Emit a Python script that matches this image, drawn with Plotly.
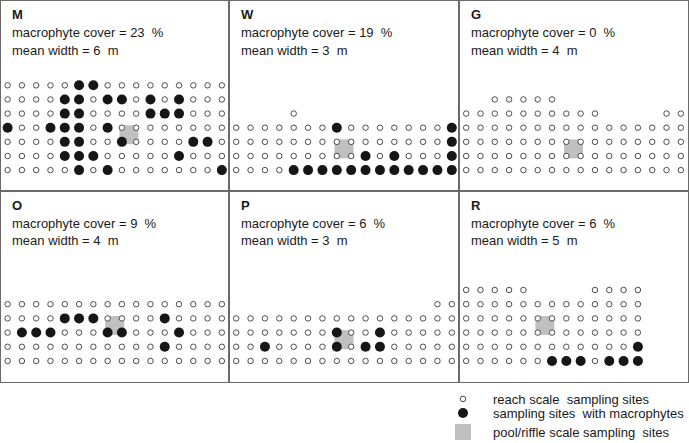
import plotly.graph_objects as go

# ---------------- data ----------------
panel_names = ["M", "W", "G", "O", "P", "R"]
cover_pct = [23, 19, 0, 9, 6, 6]
mean_width_m = [6, 3, 4, 4, 3, 5]

# sampling-site grids, top row first
# o = reach scale sampling site, x = site with macrophytes, . = no site
grid_M = [
    "oooooxxooooooooo",
    "ooooxxoxxoxoxooo",
    "ooooxxooooxxxooo",
    "xooxxxoxoooooooo",
    "ooooxxooxooooxxo",
    "ooooxxxoooooxooo",
    "oooooxoxooooooox",
]
grid_W = [
    "....o...........",
    "oooooooxooooooox",
    "ooooooooooooooox",
    "oooooooooxoxooox",
    "ooooxxxxxxxxxxxx",
]
grid_G = [
    "..ooooo.........",
    "oooooooooo....oo",
    "oooooooooooooooo",
    "oooooooooooooooo",
    "oooooooooooooooo",
    "oooooooooooooooo",
]
grid_O = [
    "oooooooooooooooo",
    "ooooxxxooooxoooo",
    "oxxxoooxxoooxooo",
    "oooooooooooxoooo",
    "oooooooooooooooo",
]
grid_P = [
    "..............oo",
    "oooooooooooooooo",
    "oooooooxooxooooo",
    "ooxooooxoxxooooo",
    "oooooooooooooooo",
]
grid_R = [
    "ooooo....oooo",
    "ooooooooooooo",
    "ooooooooooooo",
    "ooooooooooooo",
    "oooooooooooox",
    "ooooooxxxoxxx",
]
grids = [grid_M, grid_W, grid_G, grid_O, grid_P, grid_R]

# pool/riffle scale sampling site (centre, in grid column / row-from-bottom units)
pool_col = [8.5, 7.5, 7.5, 7.5, 7.5, 5.5]
pool_row = [2.5, 1.5, 1.5, 2.5, 1.5, 2.5]

legend_labels = ["reach scale  sampling sites",
                 "sampling sites  with macrophytes",
                 "pool/riffle scale sampling  sites"]

# ---------------- figure ----------------
W, H = 689, 443
FONT = "Arial, Liberation Sans, Helvetica, sans-serif"
TXT = "#1a1a1a"
FRAME = "#6a6a6a"

fig = go.Figure()

x_edges = [0.5, 229, 459, 688]
y_edges_top = [[1, 191], [191, 382]]  # pixel top/bottom of panel rows

for i, name in enumerate(panel_names):
    ax = "" if i == 0 else str(i + 1)
    rows = grids[i]
    n = len(rows)
    ox, oy, fx, fy = [], [], [], []
    for k, row in enumerate(rows):
        r = n - 1 - k
        for c, ch in enumerate(row):
            if ch == "o":
                ox.append(c); oy.append(r)
            elif ch == "x":
                fx.append(c); fy.append(r)
    first = i == 0
    fig.add_trace(go.Scatter(
        x=[pool_col[i]], y=[pool_row[i]], mode="markers",
        marker=dict(symbol="square", size=19, color="#c0c0c0", line=dict(width=0)),
        name=legend_labels[2], legend="legend3", showlegend=first,
        xaxis="x" + ax, yaxis="y" + ax, hoverinfo="skip"))
    fig.add_trace(go.Scatter(
        x=ox, y=oy, mode="markers",
        marker=dict(symbol="circle", size=5.5, color="white",
                    line=dict(width=0.9, color="#3a3a3a")),
        name=legend_labels[0], legend="legend", showlegend=first,
        xaxis="x" + ax, yaxis="y" + ax, hoverinfo="skip"))
    fig.add_trace(go.Scatter(
        x=fx, y=fy, mode="markers",
        marker=dict(symbol="circle", size=10, color="#161616", line=dict(width=0)),
        name=legend_labels[1], legend="legend2", showlegend=first,
        xaxis="x" + ax, yaxis="y" + ax, hoverinfo="skip"))

    col = i % 3
    prow = i // 3
    x0, x1 = x_edges[col], x_edges[col + 1]
    ytop, ybot = y_edges_top[prow]
    axis_common = dict(showgrid=False, zeroline=False, showticklabels=False,
                       ticks="", showline=True, mirror=True, linecolor=FRAME,
                       linewidth=1, fixedrange=True)
    fig.layout["xaxis" + ax] = dict(axis_common, domain=[x0 / W, x1 / W],
                                     range=[-0.5, 15.5], anchor="y" + ax)
    fig.layout["yaxis" + ax] = dict(axis_common, domain=[(H - ybot) / H, (H - ytop) / H],
                                     range=[-1.48, 11.97], anchor="x" + ax)

    lines = [f"<b>{name}</b>",
             f"macrophyte cover = {cover_pct[i]}  %",
             f"mean width = {mean_width_m[i]}  m"]
    for j, (t, dy) in enumerate(zip(lines, [14, 32, 49])):
        fig.add_annotation(
            text=t, xref=f"x{ax} domain", yref=f"y{ax} domain",
            x=10 / 229, y=1 - dy / 190, xanchor="left", yanchor="middle",
            showarrow=False, font=dict(family=FONT, size=13, color=TXT))

leg_common = dict(xanchor="left", yanchor="middle", bgcolor="rgba(0,0,0,0)",
                  itemsizing="trace", itemwidth=50, borderwidth=0,
                  font=dict(family=FONT, size=13, color=TXT))
fig.update_layout(
    width=W, height=H, margin=dict(l=0, r=0, t=0, b=0, autoexpand=False),
    paper_bgcolor="white", plot_bgcolor="white",
    font=dict(family=FONT, size=13, color=TXT),
    legend=dict(leg_common, x=433 / W, y=(H - 399) / H),
    legend2=dict(leg_common, x=433 / W, y=(H - 413) / H),
    legend3=dict(leg_common, x=433 / W, y=(H - 432) / H),
)

fig.write_html("out.html", config={"displayModeBar": False},
               post_script="document.body.style.margin='0';document.body.style.overflow='hidden';")
